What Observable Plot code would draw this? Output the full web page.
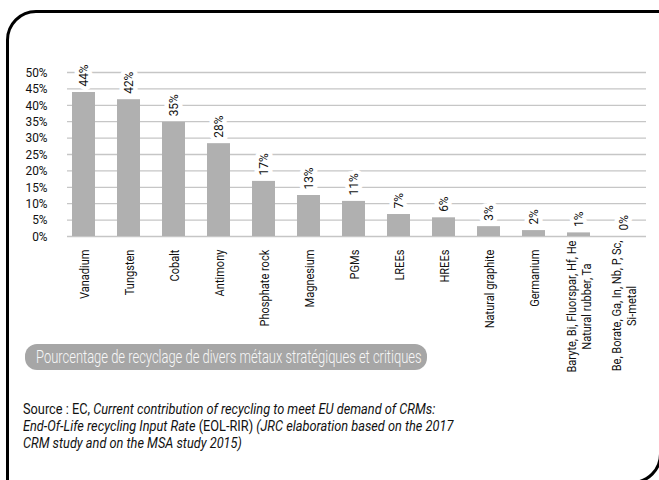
<!DOCTYPE html>
<html><head><meta charset="utf-8">
<script src="https://cdn.jsdelivr.net/npm/d3@7"></script>
<script src="https://cdn.jsdelivr.net/npm/@observablehq/plot@0.6"></script>
<style>
html,body{margin:0;padding:0;background:#fff;overflow:hidden;width:659px;height:480px;}
body{position:relative;font-family:Roboto,sans-serif;color:#111;}
#frame{position:absolute;left:6px;top:10px;width:650px;height:468px;border:3px solid #000;border-radius:30px 0 30px 0;}
#chart{position:absolute;left:0;top:0;}
#pill{position:absolute;left:25px;top:344px;width:402px;height:26px;line-height:26px;background:#a6a6a6;color:#f8f8f8;border-radius:12px;font-size:17.5px;font-weight:300;white-space:nowrap;overflow:hidden;}
#pill span{display:inline-block;transform-origin:0 50%;transform:scaleX(0.74);margin-left:11px;}
#source{position:absolute;left:23px;top:401px;font-size:14.5px;line-height:17px;color:#111;white-space:nowrap;transform-origin:0 0;transform:scaleX(0.88);}
</style></head>
<body>
<div id="frame"></div>
<div id="chart"></div>
<div id="pill"><span>Pourcentage de recyclage de divers métaux stratégiques et critiques</span></div>
<div id="source">Source : EC, <i>Current contribution of recycling to meet EU demand of CRMs:</i><br><i>End-Of-Life recycling Input Rate</i> (EOL-RIR) <i>(JRC elaboration based on the 2017</i><br><i>CRM study and on the MSA study 2015)</i></div>
<script>
const categories = ["Vanadium","Tungsten","Cobalt","Antimony","Phosphate rock","Magnesium","PGMs","LREEs","HREEs","Natural graphite","Germanium","Baryte, Bi, Fluorspar, Hf, He\nNatural rubber, Ta","Be, Borate, Ga, In, Nb, P, Sc,\nSi-metal"];
const values = [0.439,0.417,0.348,0.283,0.168,0.125,0.107,0.067,0.057,0.030,0.018,0.011,0];
const valueLabels = ["44%","42%","35%","28%","17%","13%","11%","7%","6%","3%","2%","1%","0%"];
const yTicks = [0,0.05,0.10,0.15,0.20,0.25,0.30,0.35,0.40,0.45,0.50];
const yTickLabels = ["0%","5%","10%","15%","20%","25%","30%","35%","40%","45%","50%"];

const data = categories.map((c,i)=>({cat:c, value:values[i], label:valueLabels[i]}));
const font = 'Roboto,sans-serif';
const squeezeNum = 0.88;   // condensed look for the figures
const squeezeCat = 0.85;   // condensed look for the category names

const plot = Plot.plot({
  width:659, height:340, marginLeft:61, marginRight:13, marginTop:72, marginBottom:104,
  style:{fontFamily:font, fontSize:"13px", color:"#111", background:"transparent", overflow:"visible"},
  x:{domain:categories, paddingInner:0.49, paddingOuter:0.245, axis:null},
  y:{domain:[0,0.5], axis:null},
  marks:[
    Plot.ruleY(yTicks,{stroke:"#c6c6c6", strokeWidth:1.3, insetLeft:6}),
    Plot.barY(data,{x:"cat", y:"value", fill:"#b0b0b0"}),
    Plot.axisY(yTicks,{label:null, tickSize:0, tickPadding:14, tickFormat:(d,i)=>yTickLabels[i], fontSize:13.5, fill:"#111"}),
    Plot.text(data,{x:"cat", y:"value", text:"label", rotate:-90, textAnchor:"start", lineAnchor:"middle", dy:-6, stroke:"white", strokeWidth:9, fill:"#111", fontSize:13.5}),
    Plot.text(data,{x:"cat", text:"cat", frameAnchor:"bottom", rotate:-90, textAnchor:"middle", lineAnchor:"middle", lineHeight:1.1, fill:"#111", fontSize:13})
  ]
});
document.getElementById("chart").append(plot);

const y0 = plot.scale("y").apply(0);
const groups = plot.querySelectorAll('g[aria-label="text"]');
const catG = groups[groups.length-1];
// squeeze figures along their reading direction
plot.querySelectorAll("text").forEach(t=>{
  const tr = t.getAttribute("transform");
  if (tr && t.parentNode !== catG) t.setAttribute("transform", tr + ` scale(${squeezeNum},1)`);
});
// category labels hang from just below the baseline, lines centred
catG.querySelectorAll("text").forEach(t=>{
  const m = /translate\(([^,]+),([^)]+)\)/.exec(t.getAttribute("transform"));
  const x = +m[1];
  const w = t.getBBox().width * squeezeCat;
  const lines = t.querySelectorAll("tspan").length || 1;
  const top = y0 + (lines > 1 ? 4 : 13);
  t.setAttribute("transform", `translate(${x},${top + w/2}) rotate(-90) scale(${squeezeCat},1)`);
});
</script>
</body></html>
